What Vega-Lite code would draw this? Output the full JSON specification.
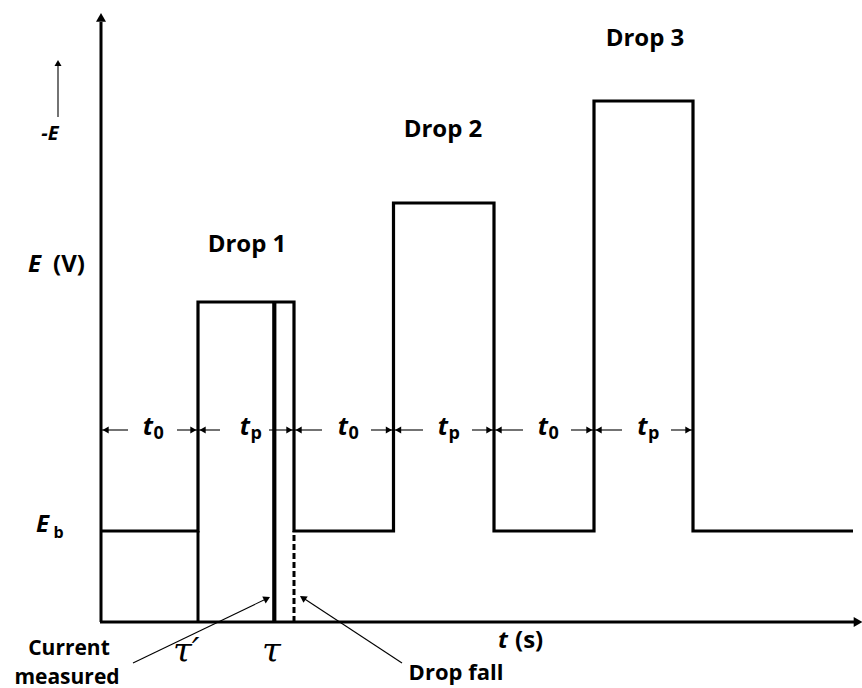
{
  "$schema": "https://vega.github.io/schema/vega-lite/v6.json",
  "width": 862,
  "height": 688,
  "autosize": {"type": "none"},
  "padding": 0,
  "background": "white",
  "config": {"view": {"stroke": null}},
  "datasets": {
    "wave": [
      {"i": 0, "x": 0, "y": 0.91},
      {"i": 1, "x": 0.98, "y": 0.91},
      {"i": 2, "x": 0.98, "y": 3.2},
      {"i": 3, "x": 1.94, "y": 3.2},
      {"i": 4, "x": 1.94, "y": 0.91},
      {"i": 5, "x": 2.935, "y": 0.91},
      {"i": 6, "x": 2.935, "y": 4.19},
      {"i": 7, "x": 3.94, "y": 4.19},
      {"i": 8, "x": 3.94, "y": 0.91},
      {"i": 9, "x": 4.94, "y": 0.91},
      {"i": 10, "x": 4.94, "y": 5.21},
      {"i": 11, "x": 5.93, "y": 5.21},
      {"i": 12, "x": 5.93, "y": 0.91},
      {"i": 13, "x": 7.53, "y": 0.91}
    ],
    "axes": [
      {"x": 0.01, "y": 0, "x2": 0.01, "y2": 6.0},
      {"x": 0, "y": 0, "x2": 7.55, "y2": 0},
      {"x": 0.98, "y": 0, "x2": 0.98, "y2": 0.91}
    ],
    "tau": [{"x": 1.743, "y": 0, "x2": 1.743, "y2": 3.2}],
    "fall": [{"x": 1.94, "y": 0, "x2": 1.94, "y2": 0.91}],
    "thin": [
      {"x": 0.0, "x2": 0.28, "y": 1.92, "y2": 1.92},
      {"x": 0.77, "x2": 0.98, "y": 1.92, "y2": 1.92},
      {"x": 0.98, "x2": 1.2, "y": 1.92, "y2": 1.92},
      {"x": 1.69, "x2": 1.94, "y": 1.92, "y2": 1.92},
      {"x": 1.94, "x2": 2.22, "y": 1.92, "y2": 1.92},
      {"x": 2.71, "x2": 2.935, "y": 1.92, "y2": 1.92},
      {"x": 2.935, "x2": 3.23, "y": 1.92, "y2": 1.92},
      {"x": 3.72, "x2": 3.94, "y": 1.92, "y2": 1.92},
      {"x": 3.94, "x2": 4.23, "y": 1.92, "y2": 1.92},
      {"x": 4.71, "x2": 4.94, "y": 1.92, "y2": 1.92},
      {"x": 4.94, "x2": 5.22, "y": 1.92, "y2": 1.92},
      {"x": 5.71, "x2": 5.93, "y": 1.92, "y2": 1.92},
      {"x": -0.42, "x2": -0.42, "y": 5.05, "y2": 5.56},
      {"x": 0.33, "x2": 1.67, "y": -0.41, "y2": 0.235},
      {"x": 3.02, "x2": 2.028, "y": -0.41, "y2": 0.242}
    ],
    "headLeft": [
      {"x": 0.056, "y": 1.92}, {"x": 1.026, "y": 1.92}, {"x": 1.986, "y": 1.92},
      {"x": 2.981, "y": 1.92}, {"x": 3.986, "y": 1.92}, {"x": 4.986, "y": 1.92}
    ],
    "headRight": [
      {"x": 0.934, "y": 1.92}, {"x": 1.894, "y": 1.92}, {"x": 2.889, "y": 1.92},
      {"x": 3.894, "y": 1.92}, {"x": 4.894, "y": 1.92}, {"x": 5.884, "y": 1.92}
    ],
    "drops": [
      {"x": 1.47, "y": 3.7, "label": "Drop 1"},
      {"x": 3.43, "y": 4.85, "label": "Drop 2"},
      {"x": 5.45, "y": 5.76, "label": "Drop 3"}
    ],
    "notes": [
      {"x": -0.31, "y": -0.33, "label": "Current"},
      {"x": -0.33, "y": -0.615, "label": "measured"}
    ],
    "noteFall": [{"x": 3.56, "y": -0.58, "label": "Drop fall"}],
    "italicBig": [
      {"x": -0.72, "y": 3.5, "label": "E"},
      {"x": -0.64, "y": 0.9, "label": "E"},
      {"x": 3.98, "y": -0.26, "label": "t"}
    ],
    "boldBig": [
      {"x": -0.47, "y": 3.5, "label": "(V)"},
      {"x": 4.15, "y": -0.26, "label": "(s)"}
    ],
    "minusE": [{"x": -0.5, "y": 4.82, "label": "-E"}],
    "sub": [{"x": -0.465, "y": 0.84, "label": "b"}],
    "tLabels": [
      {"x": 0.53, "y": 1.87, "label": "t"},
      {"x": 1.5, "y": 1.87, "label": "t"},
      {"x": 2.48, "y": 1.87, "label": "t"},
      {"x": 3.48, "y": 1.87, "label": "t"},
      {"x": 4.48, "y": 1.87, "label": "t"},
      {"x": 5.475, "y": 1.87, "label": "t"}
    ],
    "tSubs": [
      {"x": 0.535, "y": 1.83, "label": "0"},
      {"x": 1.505, "y": 1.83, "label": "p"},
      {"x": 2.485, "y": 1.83, "label": "0"},
      {"x": 3.485, "y": 1.83, "label": "p"},
      {"x": 4.485, "y": 1.83, "label": "0"},
      {"x": 5.48, "y": 1.83, "label": "p"}
    ],
    "taus": [
      {"x": 0.73, "y": -0.4, "label": "τ′"},
      {"x": 1.62, "y": -0.4, "label": "τ"}
    ]
  },
  "encoding": {
    "x": {"field": "x", "type": "quantitative", "scale": {"domain": [-1, 7.62], "nice": false, "zero": false}, "axis": null},
    "y": {"field": "y", "type": "quantitative", "scale": {"domain": [-0.66, 6.22], "nice": false, "zero": false}, "axis": null}
  },
  "layer": [
    {
      "data": {"name": "wave"},
      "mark": {"type": "line", "color": "black", "strokeWidth": 3.2, "strokeJoin": "miter", "strokeCap": "butt"},
      "encoding": {"order": {"field": "i", "type": "quantitative"}}
    },
    {
      "data": {"name": "axes"},
      "mark": {"type": "rule", "color": "black", "strokeWidth": 3, "strokeCap": "butt"},
      "encoding": {"x2": {"field": "x2"}, "y2": {"field": "y2"}}
    },
    {
      "data": {"name": "tau"},
      "mark": {"type": "rule", "color": "black", "strokeWidth": 4.2},
      "encoding": {"x2": {"field": "x2"}, "y2": {"field": "y2"}}
    },
    {
      "data": {"name": "fall"},
      "mark": {"type": "rule", "color": "black", "strokeWidth": 3, "strokeDash": [6, 3]},
      "encoding": {"x2": {"field": "x2"}, "y2": {"field": "y2"}}
    },
    {
      "data": {"name": "thin"},
      "mark": {"type": "rule", "color": "black", "strokeWidth": 1.1},
      "encoding": {"x2": {"field": "x2"}, "y2": {"field": "y2"}}
    },
    {
      "data": {"name": "headLeft"},
      "mark": {"type": "point", "shape": "triangle-left", "filled": true, "color": "black", "size": 50, "opacity": 1}
    },
    {
      "data": {"name": "headRight"},
      "mark": {"type": "point", "shape": "triangle-right", "filled": true, "color": "black", "size": 50, "opacity": 1}
    },
    {
      "data": {"values": [{"x": 0.01, "y": 6.047}]},
      "mark": {"type": "point", "shape": "triangle-up", "filled": true, "color": "black", "size": 100, "opacity": 1}
    },
    {
      "data": {"values": [{"x": 7.58, "y": 0}]},
      "mark": {"type": "point", "shape": "triangle-right", "filled": true, "color": "black", "size": 100, "opacity": 1}
    },
    {
      "data": {"values": [{"x": -0.42, "y": 5.59}]},
      "mark": {"type": "point", "shape": "triangle-up", "filled": true, "color": "black", "size": 49, "opacity": 1}
    },
    {
      "data": {"values": [{"x": 1.67, "y": 0.235}]},
      "mark": {"type": "point", "shape": "triangle-up", "angle": 64, "filled": true, "color": "black", "size": 60, "opacity": 1}
    },
    {
      "data": {"values": [{"x": 2.028, "y": 0.242}]},
      "mark": {"type": "point", "shape": "triangle-up", "angle": 303, "filled": true, "color": "black", "size": 60, "opacity": 1}
    },
    {
      "data": {"name": "drops"},
      "mark": {"type": "text", "font": "Open Sans", "fontWeight": "bold", "fontSize": 24, "align": "center", "baseline": "alphabetic", "color": "black"},
      "encoding": {"text": {"field": "label"}}
    },
    {
      "data": {"name": "notes"},
      "mark": {"type": "text", "font": "Open Sans", "fontWeight": "bold", "fontSize": 21, "align": "center", "baseline": "alphabetic", "color": "black"},
      "encoding": {"text": {"field": "label"}}
    },
    {
      "data": {"name": "noteFall"},
      "mark": {"type": "text", "font": "Open Sans", "fontWeight": "bold", "fontSize": 22, "align": "center", "baseline": "alphabetic", "color": "black"},
      "encoding": {"text": {"field": "label"}}
    },
    {
      "data": {"name": "italicBig"},
      "mark": {"type": "text", "font": "Open Sans", "fontWeight": "bold", "fontStyle": "italic", "fontSize": 24, "align": "left", "baseline": "alphabetic", "color": "black"},
      "encoding": {"text": {"field": "label"}}
    },
    {
      "data": {"name": "boldBig"},
      "mark": {"type": "text", "font": "Open Sans", "fontWeight": "bold", "fontSize": 24, "align": "left", "baseline": "alphabetic", "color": "black"},
      "encoding": {"text": {"field": "label"}}
    },
    {
      "data": {"name": "minusE"},
      "mark": {"type": "text", "font": "Open Sans", "fontWeight": "bold", "fontStyle": "italic", "fontSize": 20, "align": "center", "baseline": "alphabetic", "color": "black"},
      "encoding": {"text": {"field": "label"}}
    },
    {
      "data": {"name": "sub"},
      "mark": {"type": "text", "font": "Open Sans", "fontWeight": "bold", "fontSize": 16, "align": "left", "baseline": "alphabetic", "color": "black"},
      "encoding": {"text": {"field": "label"}}
    },
    {
      "data": {"name": "tLabels"},
      "mark": {"type": "text", "font": "Open Sans", "fontWeight": "bold", "fontStyle": "italic", "fontSize": 25, "align": "right", "baseline": "alphabetic", "color": "black"},
      "encoding": {"text": {"field": "label"}}
    },
    {
      "data": {"name": "tSubs"},
      "mark": {"type": "text", "font": "Open Sans", "fontWeight": "bold", "fontSize": 18, "align": "left", "baseline": "alphabetic", "color": "black"},
      "encoding": {"text": {"field": "label"}}
    },
    {
      "data": {"name": "taus"},
      "mark": {"type": "text", "font": "DejaVu Serif", "fontStyle": "italic", "fontSize": 34, "align": "left", "baseline": "alphabetic", "color": "black"},
      "encoding": {"text": {"field": "label"}}
    }
  ]
}
